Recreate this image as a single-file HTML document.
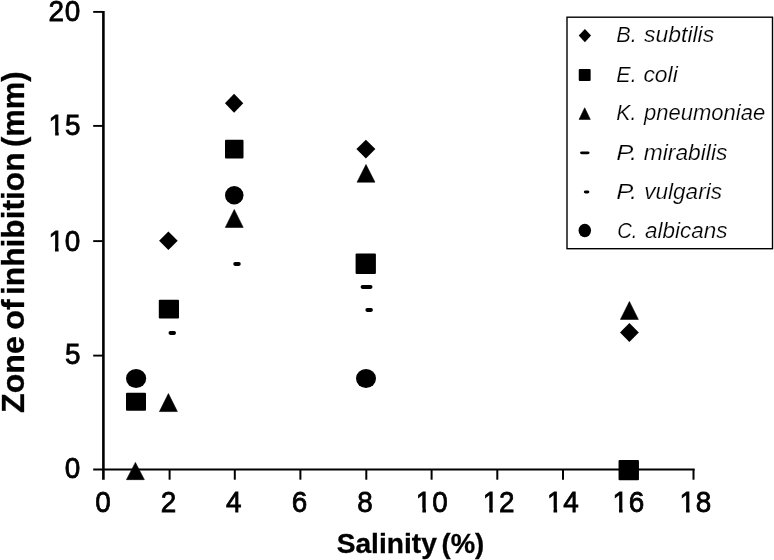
<!DOCTYPE html>
<html lang="en"><head><meta charset="utf-8"><title>Zone of inhibition vs salinity</title>
<style>html,body{margin:0;padding:0;background:#fff;}body{width:774px;height:560px;overflow:hidden;}svg{display:block;}text{font-family:"Liberation Sans",Arial,Helvetica,sans-serif;fill:#000;}</style>
</head><body>
<svg width="774" height="560" viewBox="0 0 774 560">
<rect x="0" y="0" width="774" height="560" fill="#ffffff"/>
<text transform="translate(64.79,478.10) scale(0.93,1)" font-size="30" stroke="#000" stroke-width="0.8">0</text>
<text transform="translate(64.93,364.30) scale(0.93,1)" font-size="30" stroke="#000" stroke-width="0.8">5</text>
<text transform="translate(48.44,250.60) scale(0.93,1)" font-size="30" stroke="#000" stroke-width="0.8" letter-spacing="0.9">10</text>
<rect x="48.64" y="246.70" width="6.35" height="6.2" fill="#fff"/>
<rect x="58.59" y="246.70" width="5.3" height="6.2" fill="#fff"/>
<text transform="translate(48.58,135.20) scale(0.93,1)" font-size="30" stroke="#000" stroke-width="0.8" letter-spacing="0.9">15</text>
<rect x="48.78" y="131.30" width="6.35" height="6.2" fill="#fff"/>
<rect x="58.73" y="131.30" width="5.3" height="6.2" fill="#fff"/>
<text transform="translate(48.44,20.60) scale(0.93,1)" font-size="30" stroke="#000" stroke-width="0.8" letter-spacing="0.9">20</text>
<text transform="translate(95.36,511.90) scale(0.93,1)" font-size="30" stroke="#000" stroke-width="0.8">0</text>
<text transform="translate(160.79,511.90) scale(0.93,1)" font-size="30" stroke="#000" stroke-width="0.8">2</text>
<text transform="translate(225.93,511.90) scale(0.93,1)" font-size="30" stroke="#000" stroke-width="0.8">4</text>
<text transform="translate(291.82,511.90) scale(0.93,1)" font-size="30" stroke="#000" stroke-width="0.8">6</text>
<text transform="translate(357.26,511.90) scale(0.93,1)" font-size="30" stroke="#000" stroke-width="0.8">8</text>
<text transform="translate(415.82,511.90) scale(0.93,1)" font-size="30" stroke="#000" stroke-width="0.8" letter-spacing="0.9">10</text>
<rect x="416.02" y="508.00" width="6.35" height="6.2" fill="#fff"/>
<rect x="425.97" y="508.00" width="5.3" height="6.2" fill="#fff"/>
<text transform="translate(482.66,511.90) scale(0.93,1)" font-size="30" stroke="#000" stroke-width="0.8" letter-spacing="0.9">12</text>
<rect x="482.86" y="508.00" width="6.35" height="6.2" fill="#fff"/>
<rect x="492.81" y="508.00" width="5.3" height="6.2" fill="#fff"/>
<text transform="translate(546.98,511.90) scale(0.93,1)" font-size="30" stroke="#000" stroke-width="0.8" letter-spacing="0.9">14</text>
<rect x="547.18" y="508.00" width="6.35" height="6.2" fill="#fff"/>
<rect x="557.13" y="508.00" width="5.3" height="6.2" fill="#fff"/>
<text transform="translate(612.49,511.90) scale(0.93,1)" font-size="30" stroke="#000" stroke-width="0.8" letter-spacing="0.9">16</text>
<rect x="612.69" y="508.00" width="6.35" height="6.2" fill="#fff"/>
<rect x="622.64" y="508.00" width="5.3" height="6.2" fill="#fff"/>
<text transform="translate(679.49,511.90) scale(0.93,1)" font-size="30" stroke="#000" stroke-width="0.8" letter-spacing="0.9">18</text>
<rect x="679.69" y="508.00" width="6.35" height="6.2" fill="#fff"/>
<rect x="689.64" y="508.00" width="5.3" height="6.2" fill="#fff"/>
<text transform="translate(336.70,552.60) scale(1.0238,1)" font-size="27.5" font-weight="bold" stroke="#000" stroke-width="0.3">Salinity</text>
<text transform="translate(441.57,552.60) scale(0.9973,1)" font-size="27.5" font-weight="bold" stroke="#000" stroke-width="0.3">(%)</text>
<text transform="translate(24.00,412.90) rotate(-90) scale(1.0048,1)" font-size="32" font-weight="bold" stroke="#000" stroke-width="0.3">Zone</text>
<text transform="translate(24.00,329.73) rotate(-90) scale(1.0053,1)" font-size="32" font-weight="bold" stroke="#000" stroke-width="0.3">of</text>
<text transform="translate(24.00,294.96) rotate(-90) scale(0.9905,1)" font-size="32" font-weight="bold" stroke="#000" stroke-width="0.3">inhibition</text>
<text transform="translate(24.00,147.09) rotate(-90) scale(0.9675,1)" font-size="32" font-weight="bold" stroke="#000" stroke-width="0.3">(mm)</text>
<text transform="translate(616.35,42.30) scale(1.0096,1)" font-size="21.5" font-style="italic" stroke="#fff" stroke-width="0.2">B.</text>
<text transform="translate(644.10,42.30) scale(1.0668,1)" font-size="21.5" font-style="italic" stroke="#fff" stroke-width="0.2">subtilis</text>
<text transform="translate(616.36,81.50) scale(0.9979,1)" font-size="21.5" font-style="italic" stroke="#fff" stroke-width="0.2">E.</text>
<text transform="translate(643.41,81.50) scale(1.0637,1)" font-size="21.5" font-style="italic" stroke="#fff" stroke-width="0.2">coli</text>
<text transform="translate(616.36,119.80) scale(0.9863,1)" font-size="21.5" font-style="italic" stroke="#fff" stroke-width="0.2">K.</text>
<text transform="translate(644.05,119.80) scale(1.0245,1)" font-size="21.5" font-style="italic" stroke="#fff" stroke-width="0.2">pneumoniae</text>
<text transform="translate(616.23,160.30) scale(1.1905,1)" font-size="21.5" font-style="italic" stroke="#fff" stroke-width="0.2">P.</text>
<text transform="translate(643.76,160.30) scale(1.0616,1)" font-size="21.5" font-style="italic" stroke="#fff" stroke-width="0.2">mirabilis</text>
<text transform="translate(616.23,199.00) scale(1.1905,1)" font-size="21.5" font-style="italic" stroke="#fff" stroke-width="0.2">P.</text>
<text transform="translate(644.27,199.00) scale(1.0485,1)" font-size="21.5" font-style="italic" stroke="#fff" stroke-width="0.2">vulgaris</text>
<text transform="translate(617.14,237.80) scale(0.9419,1)" font-size="21.5" font-style="italic" stroke="#fff" stroke-width="0.2">C.</text>
<text transform="translate(644.95,237.80) scale(1.0459,1)" font-size="21.5" font-style="italic" stroke="#fff" stroke-width="0.2">albicans</text>
<g stroke="#000" fill="none">
<line x1="103.4" y1="11" x2="103.4" y2="479.7" stroke-width="2.6"/>
<line x1="93.2" y1="469.5" x2="694.7" y2="469.5" stroke-width="2"/>
<line x1="93.2" y1="355.60" x2="103.4" y2="355.60" stroke-width="1.9"/>
<line x1="93.2" y1="241.10" x2="103.4" y2="241.10" stroke-width="1.9"/>
<line x1="93.2" y1="125.90" x2="103.4" y2="125.90" stroke-width="1.9"/>
<line x1="93.2" y1="11.90" x2="103.4" y2="11.90" stroke-width="1.9"/>
<line x1="169.6" y1="469.5" x2="169.6" y2="479.7" stroke-width="2"/>
<line x1="234.8" y1="469.5" x2="234.8" y2="479.7" stroke-width="2"/>
<line x1="300.4" y1="469.5" x2="300.4" y2="479.7" stroke-width="2"/>
<line x1="366.3" y1="469.5" x2="366.3" y2="479.7" stroke-width="2"/>
<line x1="431.6" y1="469.5" x2="431.6" y2="479.7" stroke-width="2"/>
<line x1="497.3" y1="469.5" x2="497.3" y2="479.7" stroke-width="2"/>
<line x1="563.0" y1="469.5" x2="563.0" y2="479.7" stroke-width="2"/>
<line x1="628.5" y1="469.5" x2="628.5" y2="479.7" stroke-width="2"/>
<line x1="693.5" y1="469.5" x2="693.5" y2="479.7" stroke-width="2"/>
</g>
<g fill="#000">
<polygon points="168.4,231.60000000000002 177.70000000000002,240.8 168.4,250.0 159.1,240.8"/>
<polygon points="234.1,93.75 243.25,103.3 234.1,112.85 224.95,103.3"/>
<polygon points="365.9,139.7 375.4,149.1 365.9,158.5 356.4,149.1"/>
<polygon points="629.4,323.1 638.8,332.5 629.4,341.9 620.0,332.5"/>
<rect x="126.0" y="392.75" width="20" height="17.9" rx="1"/>
<rect x="158.8" y="299.8" width="20.2" height="18.6" rx="1"/>
<rect x="225.0" y="139.725" width="18.5" height="18.75" rx="1"/>
<rect x="355.6" y="253.5" width="20.3" height="20.5" rx="1"/>
<rect x="618.55" y="460.0" width="20.4" height="20.2" rx="1"/>
<polygon points="135.4,462.40 144.35,479.65 126.45,479.65" stroke="#000" stroke-width="0.6" stroke-linejoin="round"/>
<polygon points="168.4,393.60 177.35,411.55 159.45000000000002,411.55" stroke="#000" stroke-width="0.6" stroke-linejoin="round"/>
<polygon points="234.25,209.50 243.2,227.40 225.3,227.40" stroke="#000" stroke-width="0.6" stroke-linejoin="round"/>
<polygon points="366,164.50 374.95,182.15 357.05,182.15" stroke="#000" stroke-width="0.6" stroke-linejoin="round"/>
<polygon points="629.4,301.50 638.35,319.40 620.4499999999999,319.40" stroke="#000" stroke-width="0.6" stroke-linejoin="round"/>
<rect x="360.6" y="285.1" width="11.899999999999977" height="3.8" rx="1.8"/>
<rect x="168.5" y="331.1" width="7.5" height="3.8" rx="1.8"/>
<rect x="233.25" y="262.1" width="7.5" height="3.8" rx="1.8"/>
<rect x="365.4" y="308.1" width="7.5" height="3.8" rx="1.8"/>
<ellipse cx="136.1" cy="378.5" rx="10.1" ry="9.4"/>
<ellipse cx="234.25" cy="195.2" rx="9.25" ry="9.25"/>
<ellipse cx="366" cy="378.5" rx="10.0" ry="9.4"/>
</g>
<rect x="567" y="17.2" width="205.5" height="231.5" fill="none" stroke="#000" stroke-width="1.4"/>
<g fill="#000">
<polygon points="584.9,29.0 591.05,35.6 584.9,42.2 578.75,35.6"/>
<rect x="578.75" y="69.1" width="11.9" height="12" rx="1"/>
<polygon points="584.7,107.80 590.3000000000001,119.40 579.1,119.40" stroke="#000" stroke-width="0.6" stroke-linejoin="round"/>
<rect x="580" y="151.4" width="9.600000000000023" height="2.8" rx="1.8"/>
<rect x="583.8" y="190.6" width="5.600000000000023" height="2.8" rx="1.8"/>
<ellipse cx="584.8" cy="230.5" rx="6.25" ry="6.65"/>
</g>
</svg>
</body></html>
